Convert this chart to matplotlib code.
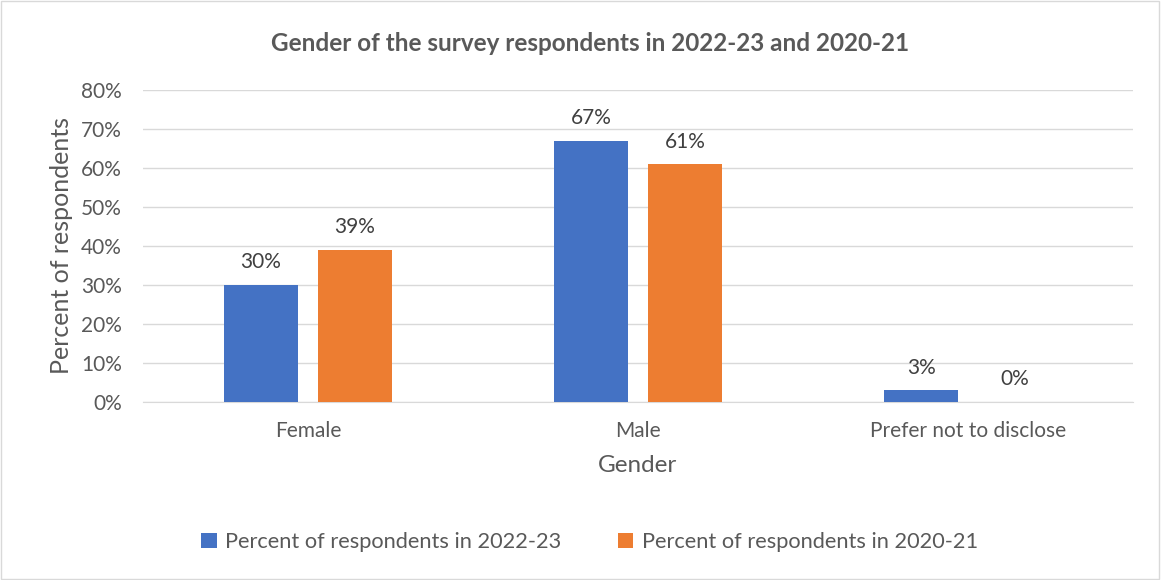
import numpy as np
import matplotlib.pyplot as plt
from matplotlib.patches import Rectangle

categories = ['Female', 'Male', 'Prefer not to disclose']
series_names = ['Percent of respondents in 2022-23', 'Percent of respondents in 2020-21']
values_2022 = [0.30, 0.67, 0.03]
values_2020 = [0.39, 0.61, 0.00]
colors = ['#4472C4', '#ED7D31']

plt.rcParams['font.family'] = ['Lato', 'DejaVu Sans']

fig = plt.figure(figsize=(11.61, 5.80), dpi=100)
ax = fig.add_axes([0.123, 0.307, 0.853, 0.538])

x = np.arange(len(categories))
width = 0.224
offset = 0.142

for vals, name, col, sign in [(values_2022, series_names[0], colors[0], -1),
                              (values_2020, series_names[1], colors[1], 1)]:
    bars = ax.bar(x + sign * offset, vals, width, color=col, label=name, zorder=3)
    for b, v in zip(bars, vals):
        ax.annotate(f'{v:.0%}', (b.get_x() + b.get_width() / 2, v),
                    xytext=(0, 9), textcoords='offset points',
                    ha='center', va='bottom', fontsize=15, color='#404040')

ax.set_xlim(-0.5, 2.5)
ax.set_ylim(0, 0.8)
ax.set_yticks(np.arange(0, 0.81, 0.1))
ax.set_yticklabels([f'{t:.0%}' for t in np.arange(0, 0.81, 0.1)])
ax.set_xticks(x)
ax.set_xticklabels(categories)
ax.tick_params(axis='both', length=0, labelsize=15, colors='#595959')
ax.tick_params(axis='y', pad=15)
ax.tick_params(axis='x', pad=14)
ax.grid(axis='y', color='#D9D9D9', linewidth=1, zorder=0)
for s in ['top', 'right', 'left']:
    ax.spines[s].set_visible(False)
ax.spines['bottom'].set_color('#D9D9D9')

ax.set_ylabel('Percent of respondents', fontsize=18, color='#595959', labelpad=6)
ax.set_xlabel('Gender', fontsize=17.5, color='#595959', labelpad=10)

fig.text(0.508, 0.925, 'Gender of the survey respondents in 2022-23 and 2020-21',
         ha='center', va='center', fontsize=17.5, fontweight='bold', color='#595959')

leg = fig.legend(loc='center', bbox_to_anchor=(0.508, 0.065), ncol=2, frameon=False,
                 fontsize=15.7, handlelength=0.7, handleheight=0.7, columnspacing=2.6,
                 handletextpad=0.4)
for t in leg.get_texts():
    t.set_color('#595959')

fig.patches.append(Rectangle((0.001, 0.001), 0.997, 0.997, transform=fig.transFigure,
                             fill=False, edgecolor='#D9D9D9', linewidth=1))

fig.savefig('out.png', dpi=100)
